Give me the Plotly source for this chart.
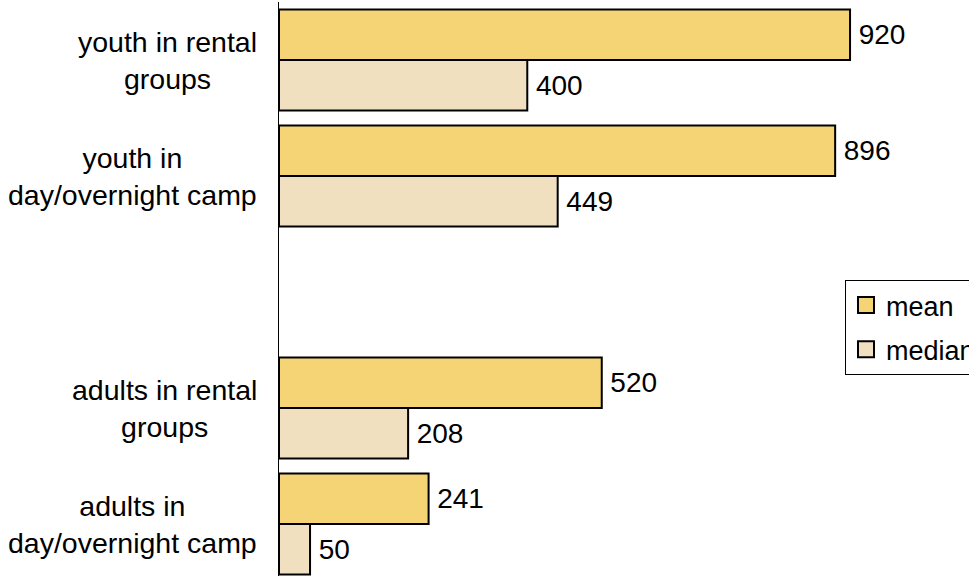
import plotly.graph_objects as go

categories = ["youth in rental<br>groups", "youth in<br>day/overnight camp", " ",
              "adults in rental<br>groups", "adults in<br>day/overnight camp"]
mean_vals = [920, 896, None, 520, 241]
median_vals = [400, 449, None, 208, 50]
series_names = ["mean", "median"]
series_colors = ["#F4D474", "#F0E0C0"]

W, H = 969, 576
ML, MR, MT, MB = 279, 0, 2, 0
FONT = "Liberation Sans, Arial, sans-serif"
BAND = 116.0

fig = go.Figure()
for name, vals, col in zip(series_names, [mean_vals, median_vals], series_colors):
    fig.add_trace(go.Bar(
        name=name, y=categories, x=vals, orientation="h", showlegend=False,
        marker=dict(color=col, line=dict(color="#000000", width=2)),
        text=[("" if v is None else str(v)) for v in vals],
        texttemplate="\u2009%{text}", textposition="outside", cliponaxis=False,
        textfont=dict(size=28, color="#000000", family=FONT),
    ))
# legend entries with larger square swatches
for i, (name, col) in enumerate(zip(series_names, series_colors)):
    fig.add_trace(go.Scatter(
        name=name, x=[None], y=[categories[0]], mode="markers",
        legendgroup=name,
        marker=dict(symbol="square", size=16, color=col, line=dict(color="#000000", width=2)),
    ))

plot_w = W - ML - MR
plot_h = H - MT - MB
annotations = []
for i, c in enumerate(categories):
    if c.strip():
        annotations.append(dict(
            text=c, xref="paper", yref="y", x=(259 - ML) / plot_w, y=i,
            xanchor="right", yanchor="middle", align="center", showarrow=False,
            font=dict(size=28.5, color="#000000", family=FONT),
        ))

fig.update_layout(
    width=W, height=H,
    margin=dict(l=ML, r=MR, t=MT, b=MB, autoexpand=False),
    paper_bgcolor="white", plot_bgcolor="white",
    barmode="group", bargap=0.13, bargroupgap=0,
    font=dict(family=FONT, size=26, color="#000000"),
    xaxis=dict(range=[0, plot_w / 0.6207], visible=False, showgrid=False, zeroline=False),
    yaxis=dict(type="category", categoryorder="array", categoryarray=categories,
               range=[plot_h / BAND - 0.5, -0.5], showticklabels=False, showgrid=False,
               showline=True, linecolor="#000000", linewidth=1, ticks="", zeroline=False),
    legend=dict(x=(845 - ML) / plot_w, y=1 - (280 - MT) / plot_h,
                xanchor="left", yanchor="top", bordercolor="#000000", borderwidth=1,
                bgcolor="white", font=dict(size=27, family=FONT),
                itemsizing="trace", tracegroupgap=6, itemwidth=30),
    annotations=annotations,
    showlegend=True,
)

fig.write_html("out.html")
